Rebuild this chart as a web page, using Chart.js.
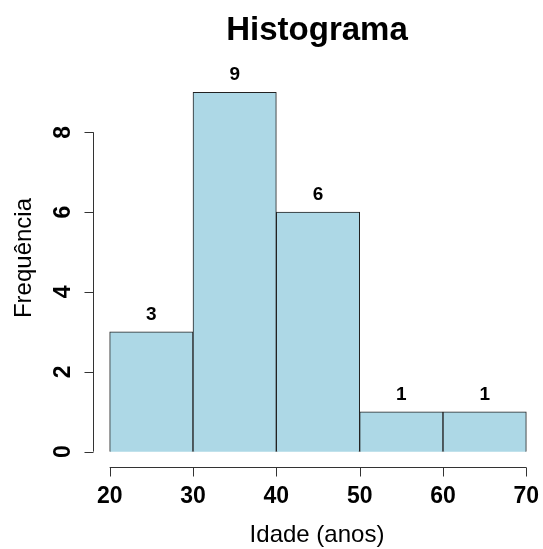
<!DOCTYPE html>
<html>
<head>
<meta charset="utf-8">
<script src="https://cdn.jsdelivr.net/npm/chart.js@4"></script>
<style>
  html, body { margin: 0; padding: 0; background: #fff; }
</style>
</head>
<body>
<canvas id="histCanvas" width="543" height="549"></canvas>
<script>
// Histograma - idades
const binStarts = [20, 30, 40, 50, 60];
const binWidth = 10;
const counts = [3, 9, 6, 1, 1];
const xTicks = [20, 30, 40, 50, 60, 70];
const yTicks = [0, 2, 4, 6, 8];

const fontFamily = '"Liberation Sans", Arial, sans-serif';

const histPoints = binStarts.map((b, i) => ({ x: b + binWidth / 2, y: counts[i] }));

// desenha eixos estilo R, titulo e rotulos
const rAxes = {
    id: "rAxes",
    afterDraw(chart) {
        const ctx = chart.ctx;
        const xs = chart.scales.x;
        const ys = chart.scales.y;
        ctx.save();
        ctx.strokeStyle = "#333";
        ctx.lineWidth = 1;
        ctx.fillStyle = "#000";

        // eixo x
        const axY = 467.5;
        ctx.beginPath();
        ctx.moveTo(xs.getPixelForValue(xTicks[0]), axY);
        ctx.lineTo(xs.getPixelForValue(xTicks[xTicks.length - 1]), axY);
        xTicks.forEach(t => {
            const px = Math.round(xs.getPixelForValue(t)) + 0.5;
            ctx.moveTo(px, axY);
            ctx.lineTo(px, axY + 9);
        });
        ctx.stroke();
        ctx.font = "bold 23px " + fontFamily;
        ctx.textAlign = "center";
        ctx.textBaseline = "alphabetic";
        xTicks.forEach(t => {
            ctx.fillText(String(t), xs.getPixelForValue(t), 503);
        });

        // eixo y
        const axX = 93.5;
        ctx.beginPath();
        ctx.moveTo(axX, ys.getPixelForValue(yTicks[0]));
        ctx.lineTo(axX, ys.getPixelForValue(yTicks[yTicks.length - 1]));
        yTicks.forEach(t => {
            const py = Math.round(ys.getPixelForValue(t)) + 0.5;
            ctx.moveTo(axX, py);
            ctx.lineTo(axX - 9, py);
        });
        ctx.stroke();
        yTicks.forEach(t => {
            ctx.save();
            ctx.translate(70, ys.getPixelForValue(t));
            ctx.rotate(-Math.PI / 2);
            ctx.fillText(String(t), 0, 0);
            ctx.restore();
        });

        // rotulos das barras
        ctx.font = "bold 19px " + fontFamily;
        histPoints.forEach(p => {
            ctx.fillText(String(p.y), xs.getPixelForValue(p.x), ys.getPixelForValue(p.y) - 12);
        });

        // titulo
        ctx.font = "bold 33px " + fontFamily;
        ctx.fillText("Histograma", 317, 40);

        // titulos dos eixos
        ctx.font = "24px " + fontFamily;
        ctx.fillText("Idade (anos)", 317, 542);
        ctx.save();
        ctx.translate(31, 258);
        ctx.rotate(-Math.PI / 2);
        ctx.fillText("Frequência", 0, 0);
        ctx.restore();

        ctx.restore();
    }
};

const histChart = new Chart(document.getElementById("histCanvas"), {
    type: "bar",
    data: {
        datasets: [{
            label: "Frequência",
            data: histPoints,
            backgroundColor: "#ADD8E6",
            borderColor: "#222",
            borderWidth: 1,
            barPercentage: 1,
            categoryPercentage: 1
        }]
    },
    options: {
        responsive: false,
        animation: false,
        devicePixelRatio: 1,
        layout: {
            padding: { left: 93, right: 0, top: 78, bottom: 83 }
        },
        plugins: {
            legend: { display: false },
            tooltip: { enabled: false },
            title: { display: false }
        },
        scales: {
            x: { type: "linear", min: 18, max: 72, offset: false, display: false },
            y: { type: "linear", min: -0.36, max: 9.36, display: false }
        }
    },
    plugins: [rAxes]
});
</script>
</body>
</html>
